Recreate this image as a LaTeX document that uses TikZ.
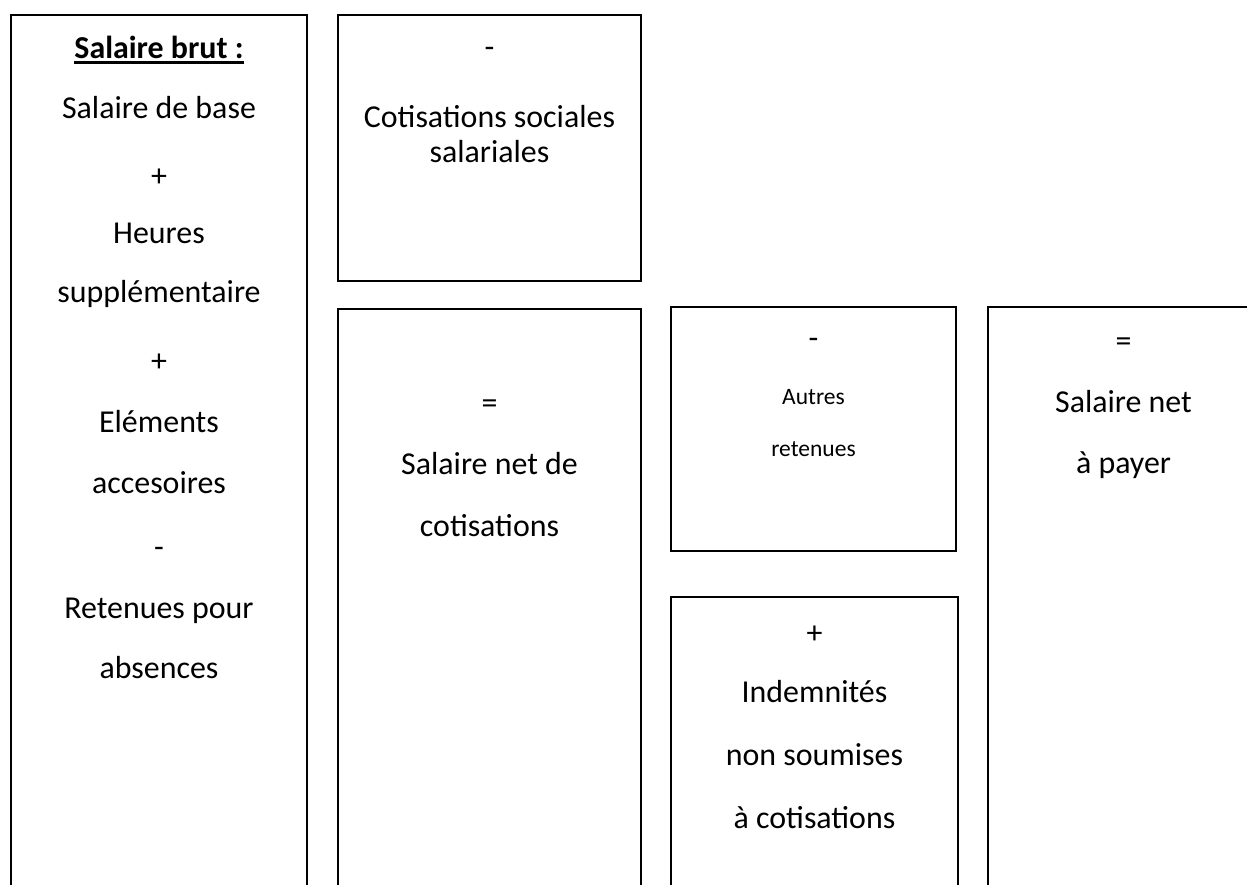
\documentclass[tikz,border=0pt]{standalone}
\usepackage{fontspec}
\setmainfont{Carlito}
\usetikzlibrary{fit}
\begin{document}
\begin{tikzpicture}[x=0.5pt, y=-0.5pt,
  panel/.style={draw=black, line width=1pt, inner sep=0pt, fill=none},
  lbl/.style={inner sep=0pt, anchor=base, font=\fontsize{15.95pt}{19pt}\selectfont},
  small/.style={inner sep=0pt, anchor=base, font=\fontsize{11.75pt}{14pt}\selectfont}]
\useasboundingbox (0,0) rectangle (1247,884);
\clip (0,0) rectangle (1247,884);

% boxes of the pay-slip breakdown
\node[panel, fit={(11,15) (307,900)}] (brut) {};
\node[panel, fit={(338,15) (641,281)}] (cotis) {};
\node[panel, fit={(338,309) (641,900)}] (netcotis) {};
\node[panel, fit={(671,307) (956,551)}] (retenues) {};
\node[panel, fit={(671,597) (958,900)}] (indem) {};
\node[panel, fit={(988,307) (1259,900)}] (netpayer) {};

% gross salary
\node[lbl, font=\fontsize{15.95pt}{19pt}\selectfont\bfseries] (t11) at (159,58) {Salaire brut :};
\draw[line width=1.3pt] ([yshift=-2.2pt]t11.base west) -- ([yshift=-2.2pt]t11.base east);
\node[lbl] (t12) at (159,118) {Salaire de base};
\node[lbl] (t13) at (159,186) {+};
\node[lbl] (t14) at (159,243) {Heures};
\node[lbl] (t15) at (159,302) {supplémentaire};
\node[lbl] (t16) at (159,371) {+};
\node[lbl] (t17) at (159,432) {Eléments};
\node[lbl] (t18) at (159,493) {accesoires};
\node[lbl] (t19) at (159,557) {-};
\node[lbl] (t110) at (159,618) {Retenues pour};
\node[lbl] (t111) at (159,678) {absences};

% employee contributions
\node[lbl] (t21) at (489.5,57) {-};
\node[lbl] (t22) at (489.5,127) {Cotisations sociales};
\node[lbl] (t23) at (489.5,162) {salariales};

% net of contributions
\node[lbl] (t31) at (489.5,413) {=};
\node[lbl] (t32) at (489.5,474) {Salaire net de};
\node[lbl] (t33) at (489.5,536) {cotisations};

% other deductions
\node[lbl] (t41) at (813.5,348) {-};
\node[small] (t42) at (813.5,404) {Autres};
\node[small] (t43) at (813.5,456) {retenues};

% allowances
\node[lbl] (t51) at (814.5,643) {+};
\node[lbl] (t52) at (814.5,702) {Indemnités};
\node[lbl] (t53) at (814.5,765) {non soumises};
\node[lbl] (t54) at (814.5,828) {à cotisations};

% net pay
\node[lbl] (t61) at (1123.5,351) {=};
\node[lbl] (t62) at (1123.5,412) {Salaire net};
\node[lbl] (t63) at (1123.5,473) {à payer};
\end{tikzpicture}
\end{document}
